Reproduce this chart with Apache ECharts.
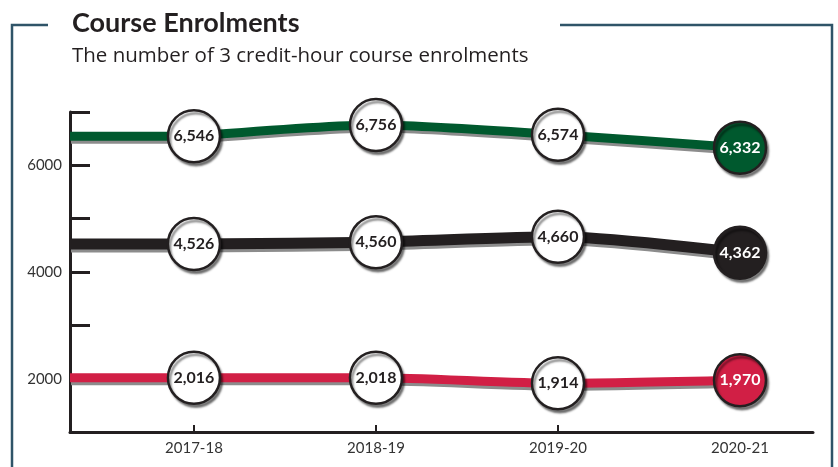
<!DOCTYPE html>
<html>
<head>
<meta charset="utf-8">
<script src="https://cdn.jsdelivr.net/npm/echarts@6/dist/echarts.min.js"></script>
<style>html,body{margin:0;padding:0;background:#fff}#c{width:838px;height:467px}</style>
</head>
<body>
<div id="c"></div>
<script>
const categories = ['2017-18', '2018-19', '2019-20', '2020-21'];
const greenValues = [6546, 6756, 6574, 6332];
const blackValues = [4526, 4560, 4660, 4362];
const redValues = [2016, 2018, 1914, 1970];
const yTickLabels = [2000, 4000, 6000];

const X_MIN = -0.681, X_MAX = 3.401;
const INK = '#231f20';
const SHADOW = '#8c8c8c';

function leadSeries(values, color, width) {
  return {
    type: 'line', z: 1, silent: true, symbol: 'none', smooth: false,
    data: [[X_MIN, values[0]], [0, values[0]]],
    lineStyle: { color: color, width: width, shadowColor: SHADOW, shadowOffsetX: 1, shadowOffsetY: 3, shadowBlur: 0 },
    emphasis: { disabled: true }, tooltip: { show: false }
  };
}

function makeSeries(name, values, color, width) {
  const last = values.length - 1;
  return {
    name: name,
    type: 'line',
    smooth: 0.25,
    z: 3,
    data: values.map((v, i) => ({
      value: [i, v],
      itemStyle: i === last ? { color: color } : undefined,
      label: i === last ? { color: '#fff' } : undefined
    })),
    lineStyle: { color: color, width: width, shadowColor: SHADOW, shadowOffsetX: 1, shadowOffsetY: 3, shadowBlur: 0 },
    symbol: 'circle',
    symbolSize: 52,
    itemStyle: { color: '#fff', borderColor: INK, borderWidth: 2.5, shadowColor: 'rgba(0,0,0,0.45)', shadowOffsetX: 2, shadowOffsetY: 3, shadowBlur: 2 },
    label: {
      show: true, position: 'inside', color: INK, fontWeight: 'bold', fontSize: 16,
      fontFamily: 'Lato',
      formatter: p => p.value[1].toLocaleString('en-US')
    }
  };
}

const chart = echarts.init(document.getElementById('c'));
chart.setOption({
  animation: false,
  backgroundColor: '#fff',
  title: [
    { text: 'Course Enrolments', left: 67, top: 5,
      textStyle: { fontFamily: 'Lato', fontWeight: 'bold', fontSize: 27, color: INK } },
    { text: 'The number of 3 credit-hour course enrolments', left: 67, top: 41,
      textStyle: { fontFamily: 'Open Sans', fontWeight: 'normal', fontSize: 20.5, color: INK } }
  ],
  graphic: [
    { type: 'polyline', shape: { points: [[48, 25], [12, 25], [12, 467]] }, style: { stroke: '#2f5468', lineWidth: 2.5, fill: null } },
    { type: 'polyline', shape: { points: [[560, 25], [832, 25], [832, 467]] }, style: { stroke: '#2f5468', lineWidth: 2.5, fill: null } }
  ],
  grid: { left: 70, right: 25, top: 112, bottom: 35 },
  xAxis: {
    type: 'value', min: X_MIN, max: X_MAX,
    axisLine: { show: true, onZero: false, lineStyle: { color: INK, width: 3 } },
    axisTick: { show: true, inside: true, length: 7, lineStyle: { color: INK, width: 2 }, customValues: [0, 1, 2] },
    axisLabel: { customValues: [0, 1, 2, 3], formatter: v => categories[Math.round(v)], color: '#333', fontSize: 15, fontFamily: 'Lato', margin: 9 },
    splitLine: { show: false }
  },
  yAxis: {
    type: 'value', min: 1000, max: 7000, interval: 1000,
    axisLine: { show: true, onZero: false, lineStyle: { color: INK, width: 3 } },
    axisTick: { show: true, inside: true, length: 20, lineStyle: { color: INK, width: 3 } },
    axisLabel: { show: true, color: '#333', fontFamily: 'Lato', fontSize: 15, margin: 8,
      customValues: yTickLabels,
      formatter: v => String(v) },
    splitLine: { show: false }
  },
  series: [
    leadSeries(greenValues, '#00592e', 9),
    leadSeries(blackValues, INK, 11),
    leadSeries(redValues, '#d11f45', 9),
    makeSeries('Green', greenValues, '#00592e', 9),
    makeSeries('Black', blackValues, INK, 11),
    makeSeries('Red', redValues, '#d11f45', 9)
  ]
});
</script>
</body>
</html>
